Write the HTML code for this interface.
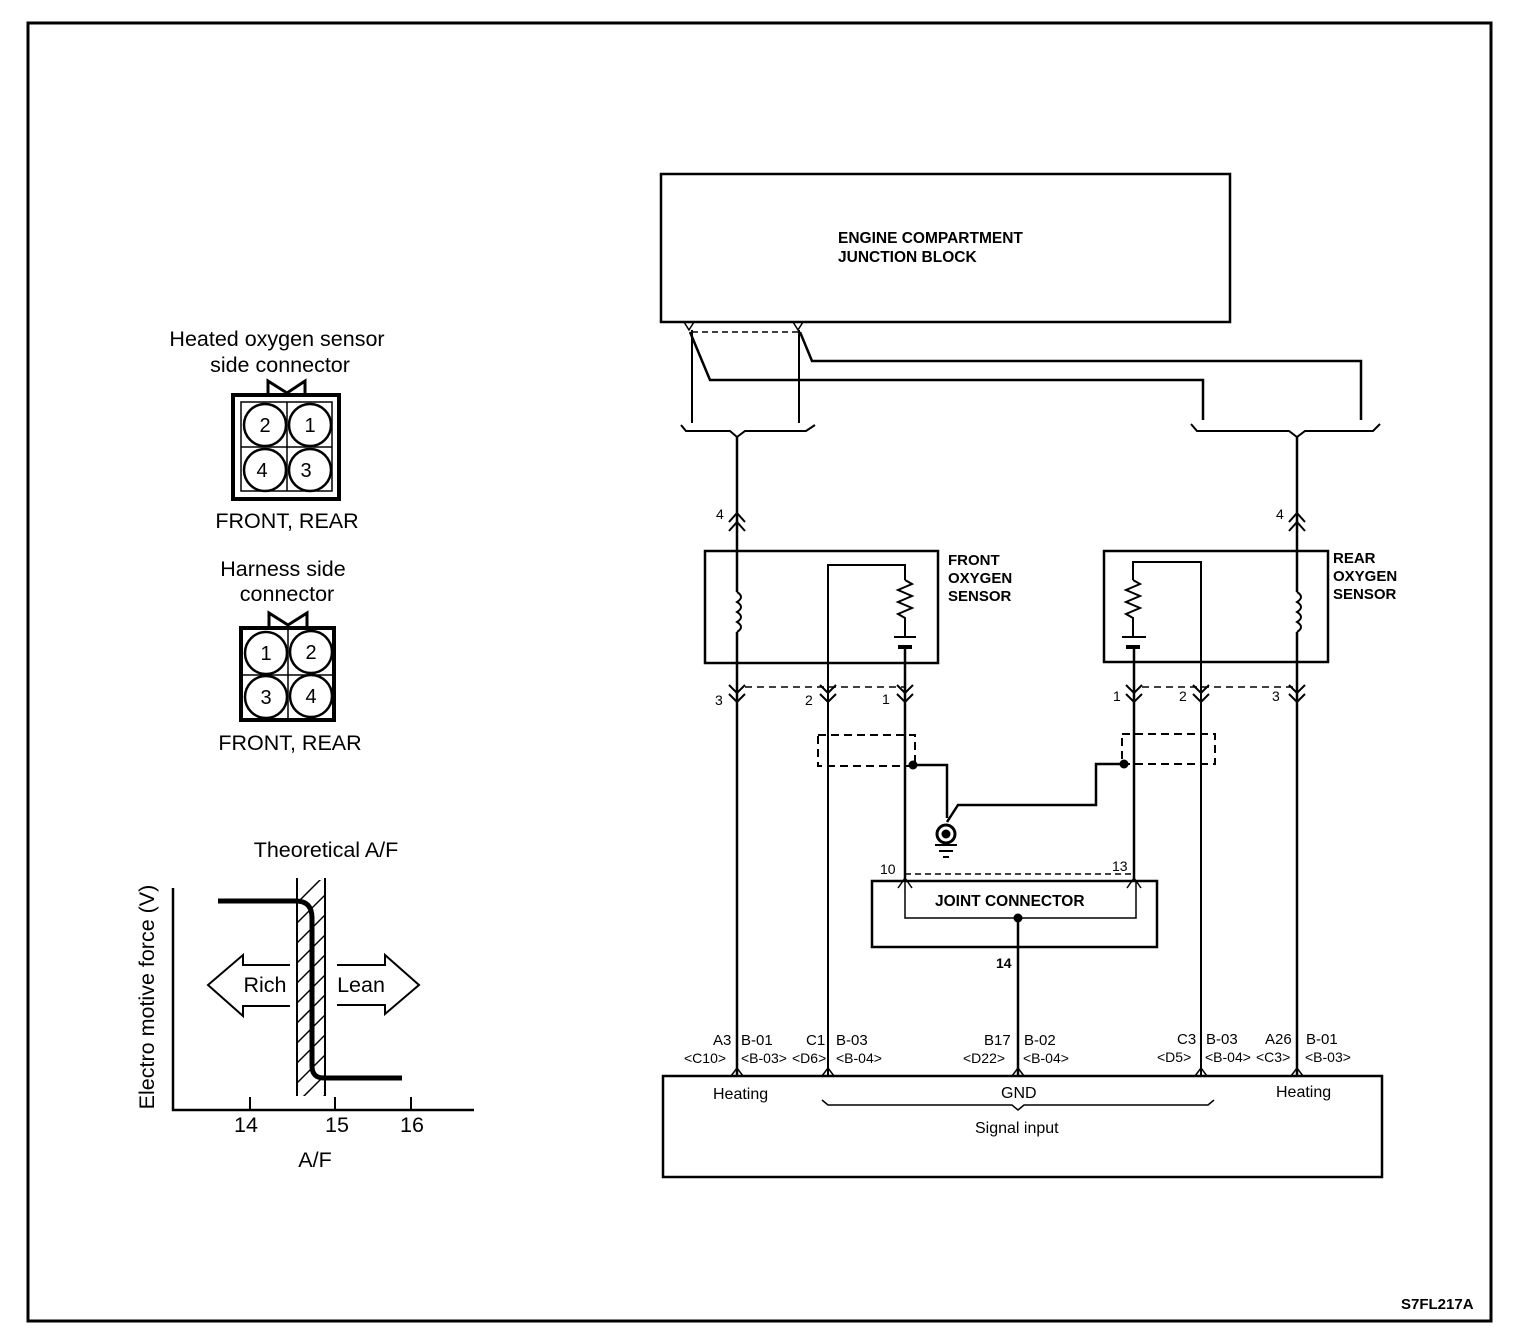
<!DOCTYPE html>
<html><head><meta charset="utf-8"><style>
html,body{margin:0;padding:0;background:#fff}
svg{display:block}
text{font-family:"Liberation Sans",Arial,sans-serif;fill:#000}
.b{font-weight:bold}
</style></head><body>
<svg width="1520" height="1340" viewBox="0 0 1520 1340" xmlns="http://www.w3.org/2000/svg">
<g fill="none" stroke="#000" stroke-width="2">
<rect x="28" y="23" width="1463" height="1298" stroke-width="3"/>
<rect x="661" y="174" width="569" height="148" stroke-width="2.5"/>
<path d="M684 322 L689 330 L694 322 M793 322 L798 330 L803 322" stroke-width="1.5"/>
<line x1="692" y1="332" x2="798" y2="332" stroke-dasharray="6,4" stroke-width="1.5"/>
<path d="M692 330 V423" stroke-width="2"/>
<path d="M799 330 V423" stroke-width="2"/>
<path d="M690 332 L710 380 H1203 V420" stroke-width="2.5"/>
<path d="M800 332 L812 361 H1361 V420" stroke-width="2.5"/>
<path d="M681 425 L686 431 H730 L737 437 L745 431 H806 L815 425" stroke-width="2"/>
<path d="M1191 424 L1197 431 H1289 L1297 437 L1305 431 H1373 L1380 424" stroke-width="2"/>
<line x1="737" y1="436" x2="737" y2="592" stroke-width="2.5"/>
<line x1="737" y1="632" x2="737" y2="1075" stroke-width="2.5"/>
<line x1="1297" y1="436" x2="1297" y2="592" stroke-width="2.5"/>
<line x1="1297" y1="632" x2="1297" y2="1075" stroke-width="2.5"/>
<path d="M729 522 L737 513 L745 522 M729 531 L737 522 L745 531" stroke-width="2"/>
<path d="M1289 522 L1297 513 L1305 522 M1289 531 L1297 522 L1305 531" stroke-width="2"/>
<rect x="705" y="551" width="233" height="112" stroke-width="2.5"/>
<path d="M737 592 q8 5 0 10 q8 5 0 10 q8 5 0 10 q8 5 0 10" stroke-width="2"/>
<path d="M828 1075 V565 H905 V580" stroke-width="2"/>
<path d="M905 580 l7 4 l-14 6 l14 6 l-14 6 l14 6 l-14 6 l7 4 V637" stroke-width="2"/>
<line x1="894" y1="637" x2="916" y2="637" stroke-width="2"/>
<line x1="898" y1="647" x2="912" y2="647" stroke-width="4"/>
<line x1="905" y1="648" x2="905" y2="880" stroke-width="2.5"/>
<rect x="1104" y="551" width="224" height="111" stroke-width="2.5"/>
<path d="M1297 592 q8 5 0 10 q8 5 0 10 q8 5 0 10 q8 5 0 10" stroke-width="2"/>
<path d="M1201 1075 V562 H1133 V580" stroke-width="2"/>
<path d="M1133 580 l7 4 l-14 6 l14 6 l-14 6 l14 6 l-14 6 l7 4 V637" stroke-width="2"/>
<line x1="1122" y1="637" x2="1146" y2="637" stroke-width="2"/>
<line x1="1126" y1="647" x2="1140" y2="647" stroke-width="4"/>
<line x1="1134" y1="648" x2="1134" y2="880" stroke-width="2.5"/>
<g stroke-width="2">
<path d="M729 685 L737 693 L745 685 M729 694 L737 702 L745 694"/>
<path d="M820 685 L828 693 L836 685 M820 694 L828 702 L836 694"/>
<path d="M897 685 L905 693 L913 685 M897 694 L905 702 L913 694"/>
<path d="M1126 685 L1134 693 L1142 685 M1126 694 L1134 702 L1142 694"/>
<path d="M1193 685 L1201 693 L1209 685 M1193 694 L1201 702 L1209 694"/>
<path d="M1289 685 L1297 693 L1305 685 M1289 694 L1297 702 L1305 694"/>
</g>
<path d="M745 687 H905 M1142 687 H1297" stroke-dasharray="7,5" stroke-width="1.5"/>
<rect x="818" y="735" width="97" height="31" stroke-dasharray="8,5" stroke-width="2"/>
<rect x="1122" y="734" width="93" height="30" stroke-dasharray="8,5" stroke-width="2"/>
<path d="M913 765 H947 V818" stroke-width="2.5"/>
<path d="M1124 764 H1096 V805 H958 L947 822" stroke-width="2.5"/>
<circle cx="946" cy="834" r="9" stroke-width="3"/>
<line x1="935" y1="845" x2="957" y2="845" stroke-width="2"/>
<line x1="939" y1="851" x2="953" y2="851" stroke-width="2"/>
<line x1="943" y1="857" x2="949" y2="857" stroke-width="2"/>
<line x1="905" y1="874" x2="1134" y2="874" stroke-dasharray="6,4" stroke-width="1.5"/>
<rect x="872" y="881" width="285" height="66" stroke-width="2.5"/>
<path d="M905 880 V918 H1136 V880" stroke-width="1.5"/>
<path d="M898 888 L905 878 L912 888 M1127 888 L1134 878 L1141 888" stroke-width="1.5"/>
<line x1="1018" y1="918" x2="1018" y2="1075" stroke-width="2.5"/>
<rect x="663" y="1076" width="719" height="101" stroke-width="2.5"/>
<path d="M731 1076 L737 1068 L743 1076 M822 1076 L828 1068 L834 1076 M1012 1076 L1018 1068 L1024 1076 M1195 1076 L1201 1068 L1207 1076 M1291 1076 L1297 1068 L1303 1076" stroke-width="1.5"/>
<path d="M822 1100 L828 1105 H1012 L1018 1110 L1024 1105 H1208 L1214 1100" stroke-width="1.5"/>
<rect x="233" y="395" width="106" height="104" stroke-width="4"/>
<rect x="241" y="402" width="91" height="89" stroke-width="1.5"/>
<line x1="287" y1="402" x2="287" y2="491" stroke-width="1.5"/>
<line x1="241" y1="447" x2="332" y2="447" stroke-width="1.5"/>
<circle cx="265" cy="425" r="21" fill="#fff" stroke-width="2.5"/>
<circle cx="310" cy="425" r="21" fill="#fff" stroke-width="2.5"/>
<circle cx="265" cy="470" r="21" fill="#fff" stroke-width="2.5"/>
<circle cx="310" cy="470" r="21" fill="#fff" stroke-width="2.5"/>
<path d="M268 394 V381 L287 393 L305 381 V394" stroke-width="3"/>
<rect x="241" y="628" width="93" height="92" stroke-width="4"/>
<line x1="288" y1="628" x2="288" y2="720" stroke-width="1.5"/>
<line x1="241" y1="675" x2="334" y2="675" stroke-width="1.5"/>
<circle cx="266" cy="653" r="21" fill="#fff" stroke-width="2.5"/>
<circle cx="311" cy="652" r="21" fill="#fff" stroke-width="2.5"/>
<circle cx="266" cy="697" r="21" fill="#fff" stroke-width="2.5"/>
<circle cx="311" cy="696" r="21" fill="#fff" stroke-width="2.5"/>
<path d="M269 627 V613 L288 625 L307 613 V627" stroke-width="3"/>
<path d="M173 888 V1110 H474" stroke-width="2.5"/>
<path d="M250 1097 V1110 M335 1097 V1110 M411 1097 V1110" stroke-width="2"/>
<defs><clipPath id="hc"><rect x="297" y="880" width="28" height="216"/></clipPath></defs>
<g clip-path="url(#hc)" stroke-width="1.5">
<path d="M280 920 L340 860 M280 940 L340 880 M280 960 L340 900 M280 980 L340 920 M280 1000 L340 940 M280 1020 L340 960 M280 1040 L340 980 M280 1060 L340 1000 M280 1080 L340 1020 M280 1100 L340 1040 M280 1120 L340 1060 M280 1140 L340 1080 M280 1160 L340 1100"/>
</g>
<line x1="297" y1="878" x2="297" y2="1096" stroke-width="2"/>
<line x1="325" y1="878" x2="325" y2="1096" stroke-width="2"/>
<path d="M218 901 H296 Q312 901 312 918 V1066 Q312 1078 324 1078 H402" stroke-width="5"/>
<path d="M290 965 H243 V955 L208 985 L243 1016 V1006 H290" fill="#fff" stroke-width="2"/>
<path d="M337 965 H385 V955 L419 985 L385 1014 V1005 H337" fill="#fff" stroke-width="2"/>
</g>
<circle cx="913" cy="765" r="4.5" fill="#000"/>
<circle cx="1124" cy="764" r="4.5" fill="#000"/>
<circle cx="946" cy="834" r="4.5" fill="#000"/>
<circle cx="1018" cy="918" r="4.5" fill="#000"/>
<text x="838" y="243" class="b" font-size="15.5">ENGINE COMPARTMENT</text>
<text x="838" y="262" class="b" font-size="15.5">JUNCTION BLOCK</text>
<text x="948" y="565" class="b" font-size="15">FRONT</text>
<text x="948" y="583" class="b" font-size="15">OXYGEN</text>
<text x="948" y="601" class="b" font-size="15">SENSOR</text>
<text x="1333" y="563" class="b" font-size="15">REAR</text>
<text x="1333" y="581" class="b" font-size="15">OXYGEN</text>
<text x="1333" y="599" class="b" font-size="15">SENSOR</text>
<g font-size="14">
<text x="716" y="519">4</text>
<text x="1276" y="519">4</text>
<text x="715" y="705">3</text>
<text x="805" y="705">2</text>
<text x="882" y="704">1</text>
<text x="1113" y="701">1</text>
<text x="1179" y="701">2</text>
<text x="1272" y="701">3</text>
<text x="880" y="874">10</text>
<text x="1112" y="871">13</text>
<text x="996" y="968" class="b">14</text>
</g>
<text x="935" y="906" class="b" font-size="15.5">JOINT CONNECTOR</text>
<g font-size="15">
<text x="713" y="1045">A3</text><text x="741" y="1045">B-01</text>
<text x="806" y="1045">C1</text><text x="836" y="1045">B-03</text>
<text x="984" y="1045">B17</text><text x="1024" y="1045">B-02</text>
<text x="1177" y="1044">C3</text><text x="1206" y="1044">B-03</text>
<text x="1265" y="1044">A26</text><text x="1306" y="1044">B-01</text>
</g>
<g font-size="14">
<text x="684" y="1063">&lt;C10&gt;</text><text x="741" y="1063">&lt;B-03&gt;</text>
<text x="792" y="1063">&lt;D6&gt;</text><text x="836" y="1063">&lt;B-04&gt;</text>
<text x="963" y="1063">&lt;D22&gt;</text><text x="1023" y="1063">&lt;B-04&gt;</text>
<text x="1157" y="1062">&lt;D5&gt;</text><text x="1205" y="1062">&lt;B-04&gt;</text>
<text x="1256" y="1062">&lt;C3&gt;</text><text x="1305" y="1062">&lt;B-03&gt;</text>
</g>
<g font-size="16">
<text x="713" y="1099">Heating</text>
<text x="1001" y="1098">GND</text>
<text x="1276" y="1097">Heating</text>
<text x="975" y="1133">Signal input</text>
</g>
<text x="1401" y="1309" class="b" font-size="15">S7FL217A</text>
<g font-size="21.5">
<text x="277" y="346" text-anchor="middle">Heated oxygen sensor</text>
<text x="280" y="372" text-anchor="middle">side connector</text>
<text x="287" y="528" text-anchor="middle">FRONT, REAR</text>
<text x="283" y="576" text-anchor="middle">Harness side</text>
<text x="287" y="601" text-anchor="middle">connector</text>
<text x="290" y="750" text-anchor="middle">FRONT, REAR</text>
</g>
<g font-size="20" text-anchor="middle">
<text x="265" y="432">2</text><text x="310" y="432">1</text>
<text x="262" y="477">4</text><text x="306" y="477">3</text>
<text x="266" y="660">1</text><text x="311" y="659">2</text>
<text x="266" y="704">3</text><text x="311" y="703">4</text>
</g>
<g font-size="21.5">
<text x="326" y="857" text-anchor="middle">Theoretical A/F</text>
<text x="265" y="992" text-anchor="middle">Rich</text>
<text x="361" y="992" text-anchor="middle">Lean</text>
<text x="246" y="1132" text-anchor="middle">14</text>
<text x="337" y="1132" text-anchor="middle">15</text>
<text x="412" y="1132" text-anchor="middle">16</text>
<text x="315" y="1167" text-anchor="middle">A/F</text>
<text transform="translate(154,997) rotate(-90)" text-anchor="middle">Electro motive force (V)</text>
</g>
</svg>
</body></html>
